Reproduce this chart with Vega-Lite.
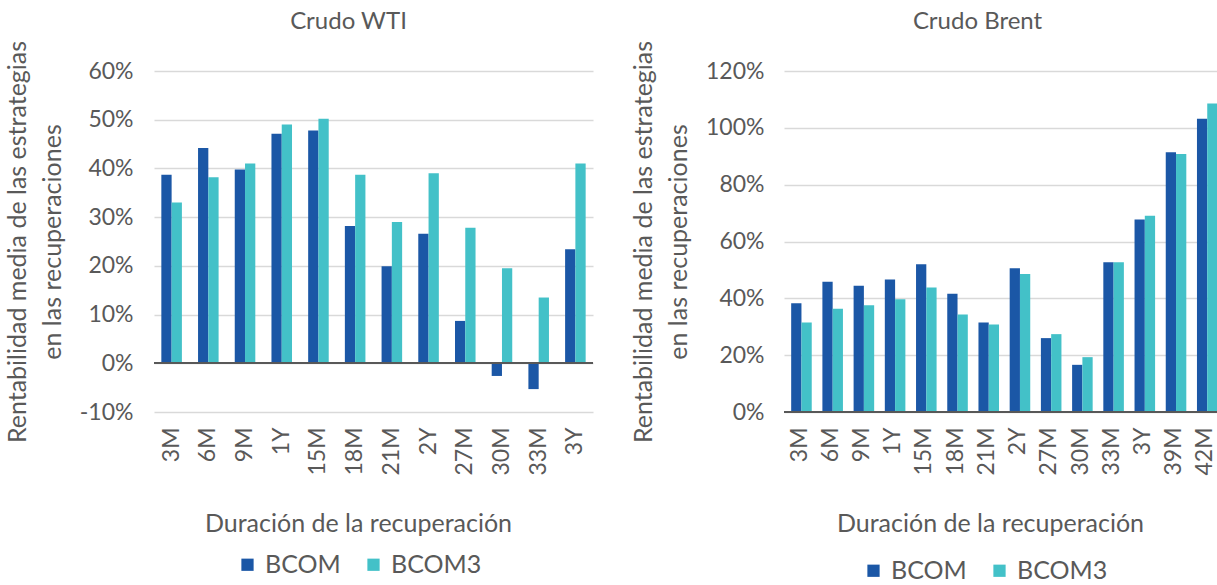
{
  "$schema": "https://vega.github.io/schema/vega-lite/v6.json",
  "padding": {"left": 5, "top": 10, "right": 0, "bottom": 0},
  "background": "white",
  "datasets": {
    "wti": [
      {"duracion": "3M", "serie": "BCOM", "valor": 38.7},
      {"duracion": "3M", "serie": "BCOM3", "valor": 33.0},
      {"duracion": "6M", "serie": "BCOM", "valor": 44.2},
      {"duracion": "6M", "serie": "BCOM3", "valor": 38.2},
      {"duracion": "9M", "serie": "BCOM", "valor": 39.8},
      {"duracion": "9M", "serie": "BCOM3", "valor": 41.0},
      {"duracion": "1Y", "serie": "BCOM", "valor": 47.1},
      {"duracion": "1Y", "serie": "BCOM3", "valor": 49.0},
      {"duracion": "15M", "serie": "BCOM", "valor": 47.8},
      {"duracion": "15M", "serie": "BCOM3", "valor": 50.2},
      {"duracion": "18M", "serie": "BCOM", "valor": 28.2},
      {"duracion": "18M", "serie": "BCOM3", "valor": 38.7},
      {"duracion": "21M", "serie": "BCOM", "valor": 19.9},
      {"duracion": "21M", "serie": "BCOM3", "valor": 29.0},
      {"duracion": "2Y", "serie": "BCOM", "valor": 26.6},
      {"duracion": "2Y", "serie": "BCOM3", "valor": 39.0},
      {"duracion": "27M", "serie": "BCOM", "valor": 8.7},
      {"duracion": "27M", "serie": "BCOM3", "valor": 27.8},
      {"duracion": "30M", "serie": "BCOM", "valor": -2.6},
      {"duracion": "30M", "serie": "BCOM3", "valor": 19.5},
      {"duracion": "33M", "serie": "BCOM", "valor": -5.3},
      {"duracion": "33M", "serie": "BCOM3", "valor": 13.5},
      {"duracion": "3Y", "serie": "BCOM", "valor": 23.4},
      {"duracion": "3Y", "serie": "BCOM3", "valor": 41.0}
    ],
    "brent": [
      {"duracion": "3M", "serie": "BCOM", "valor": 38.3},
      {"duracion": "3M", "serie": "BCOM3", "valor": 31.5},
      {"duracion": "6M", "serie": "BCOM", "valor": 45.8},
      {"duracion": "6M", "serie": "BCOM3", "valor": 36.3},
      {"duracion": "9M", "serie": "BCOM", "valor": 44.4},
      {"duracion": "9M", "serie": "BCOM3", "valor": 37.6},
      {"duracion": "1Y", "serie": "BCOM", "valor": 46.6},
      {"duracion": "1Y", "serie": "BCOM3", "valor": 39.7},
      {"duracion": "15M", "serie": "BCOM", "valor": 52.0},
      {"duracion": "15M", "serie": "BCOM3", "valor": 43.8},
      {"duracion": "18M", "serie": "BCOM", "valor": 41.6},
      {"duracion": "18M", "serie": "BCOM3", "valor": 34.3},
      {"duracion": "21M", "serie": "BCOM", "valor": 31.5},
      {"duracion": "21M", "serie": "BCOM3", "valor": 30.8},
      {"duracion": "2Y", "serie": "BCOM", "valor": 50.6},
      {"duracion": "2Y", "serie": "BCOM3", "valor": 48.6},
      {"duracion": "27M", "serie": "BCOM", "valor": 26.0},
      {"duracion": "27M", "serie": "BCOM3", "valor": 27.4},
      {"duracion": "30M", "serie": "BCOM", "valor": 16.6},
      {"duracion": "30M", "serie": "BCOM3", "valor": 19.3},
      {"duracion": "33M", "serie": "BCOM", "valor": 52.7},
      {"duracion": "33M", "serie": "BCOM3", "valor": 52.7},
      {"duracion": "3Y", "serie": "BCOM", "valor": 67.7},
      {"duracion": "3Y", "serie": "BCOM3", "valor": 69.1},
      {"duracion": "39M", "serie": "BCOM", "valor": 91.4},
      {"duracion": "39M", "serie": "BCOM3", "valor": 90.8},
      {"duracion": "42M", "serie": "BCOM", "valor": 103.2},
      {"duracion": "42M", "serie": "BCOM3", "valor": 108.6}
    ]
  },
  "config": {
    "font": "Lato",
    "view": {"stroke": null},
    "concat": {"spacing": 37},
    "axis": {
      "labelColor": "#595959",
      "titleColor": "#595959",
      "labelFont": "Lato",
      "titleFont": "Lato",
      "labelFontSize": 23,
      "titleFontSize": 25,
      "titleFontWeight": "normal",
      "domain": false,
      "ticks": false,
      "gridColor": "#d9d9d9",
      "gridWidth": 1.5
    },
    "title": {"font": "Lato", "fontSize": 24, "fontWeight": "normal", "color": "#595959"},
    "legend": {
      "orient": "none",
      "direction": "horizontal",
      "title": null,
      "symbolType": "square",
      "symbolSize": 150,
      "symbolStrokeWidth": 0,
      "labelFont": "Lato",
      "labelFontSize": 25,
      "labelColor": "#595959",
      "labelOffset": 5,
      "columnPadding": 20
    }
  },
  "hconcat": [
    {
      "title": {"text": "Crudo WTI", "dx": -25, "offset": 6},
      "width": 439,
      "height": 341,
      "data": {"name": "wti"},
      "layer": [
        {
          "mark": {"type": "bar"},
          "encoding": {
            "x": {
              "field": "duracion", "type": "nominal", "sort": null,
              "scale": {"paddingInner": 0.44, "paddingOuter": 0.2},
              "axis": {"title": "Duración de la recuperación", "labelAngle": -90, "labelPadding": 15, "titlePadding": 36, "grid": false, "titleX": 204}
            },
            "xOffset": {"field": "serie", "type": "nominal"},
            "y": {
              "field": "valor", "type": "quantitative",
              "scale": {"domain": [-10, 60], "nice": false},
              "axis": {
                "values": [-10, 0, 10, 20, 30, 40, 50, 60],
                "labelExpr": "datum.value + '%'",
                "title": ["Rentabilidad media de las estrategias", "en las recuperaciones"],
                "titleLineHeight": 35,
                "labelPadding": 21,
                "titlePadding": 14
              }
            },
            "color": {
              "field": "serie", "type": "nominal",
              "scale": {"domain": ["BCOM", "BCOM3"], "range": ["#1b57a6", "#43c1c8"]},
              "legend": {"legendX": 81, "legendY": 481}
            }
          }
        },
        {
          "mark": {"type": "rule", "color": "#595959", "strokeWidth": 1.5},
          "encoding": {"y": {"datum": 0}}
        }
      ]
    },
    {
      "title": {"text": "Crudo Brent", "dx": -25, "offset": 6},
      "width": 437,
      "height": 341,
      "data": {"name": "brent"},
      "layer": [
        {
          "mark": {"type": "bar"},
          "encoding": {
            "x": {
              "field": "duracion", "type": "nominal", "sort": null,
              "scale": {"paddingInner": 0.46, "paddingOuter": 0.23},
              "axis": {"title": "Duración de la recuperación", "labelAngle": -90, "labelPadding": 15, "titlePadding": 36, "grid": false, "titleX": 206}
            },
            "xOffset": {"field": "serie", "type": "nominal"},
            "y": {
              "field": "valor", "type": "quantitative",
              "scale": {"domain": [0, 120], "nice": false},
              "axis": {
                "values": [0, 20, 40, 60, 80, 100, 120],
                "labelExpr": "datum.value + '%'",
                "title": ["Rentabilidad media de las estrategias", "en las recuperaciones"],
                "titleLineHeight": 35,
                "labelPadding": 20,
                "titlePadding": 14
              }
            },
            "color": {
              "field": "serie", "type": "nominal",
              "scale": {"domain": ["BCOM", "BCOM3"], "range": ["#1b57a6", "#43c1c8"]},
              "legend": {"legendX": 77, "legendY": 487}
            }
          }
        },
        {
          "mark": {"type": "rule", "color": "#595959", "strokeWidth": 1.5},
          "encoding": {"y": {"datum": 0}}
        }
      ]
    }
  ],
  "resolve": {
    "scale": {"color": "independent", "y": "independent", "x": "independent"},
    "legend": {"color": "independent"}
  }
}
